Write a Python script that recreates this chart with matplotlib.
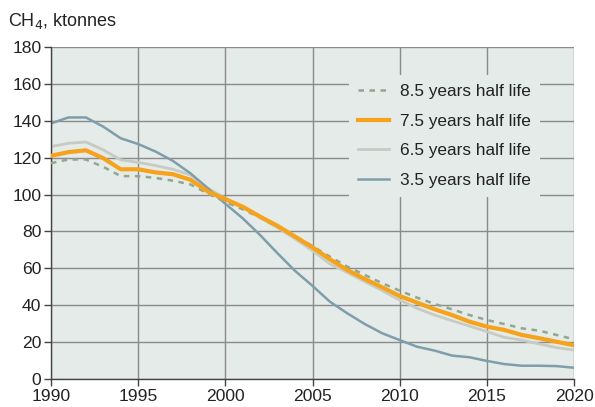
import matplotlib
matplotlib.use("Agg")
import matplotlib.pyplot as plt

years = list(range(1990, 2021))
hl_8_5 = [117, 119, 119, 115, 110, 110, 109, 107.5, 105.5, 100.5, 96,
          92, 87.5, 82.5, 77.5, 72, 66.3, 60.9, 56.4, 51.9, 47.9,
          44.1, 40.7, 37.8, 34.7, 32, 29.8, 27.5, 26.2, 23.9, 21.5]
hl_7_5 = [121, 123, 124, 119.7, 113.7, 113.7, 112, 111, 108, 101.6, 97.5,
          93.4, 88, 83, 77.2, 71.4, 64.9, 59.1, 54.2, 49.7, 45,
          41.4, 37.8, 34.7, 31.1, 28.4, 26.6, 23.9, 22.1, 20.2, 18.3]
hl_6_5 = [126, 127.8, 128.5, 124.2, 118.8, 117.5, 115.7, 113.7, 110.6, 103.4, 98,
          93, 87.5, 82, 76, 69.5, 62.4, 57.7, 52.8, 47.9, 42.8,
          38.3, 34.7, 31.6, 28.7, 25.7, 22.6, 21.1, 19, 17, 15.7]
hl_3_5 = [138.6, 141.8, 141.8, 136.8, 130.5, 127.4, 123.3, 118.2, 111.5, 103.4, 95,
          87.1, 78, 68.1, 58.6, 50.5, 41.9, 35.6, 29.8, 24.8, 21.1,
          17.5, 15.4, 12.7, 11.8, 9.8, 8.1, 7.2, 7.2, 7.0, 6.1]
labels = ["8.5 years half life", "7.5 years half life",
          "6.5 years half life", "3.5 years half life"]
xticks = [1990, 1995, 2000, 2005, 2010, 2015, 2020]
yticks = list(range(0, 181, 20))

plt.rcParams['font.family'] = ['Liberation Sans', 'DejaVu Sans']
bg = '#e5ebe9'

fig = plt.figure(figsize=(5.95, 4.07), dpi=100)
ax = fig.add_axes([51/595, 28/407, 523/595, 332/407])
ax.set_facecolor(bg)

ax.plot(years, hl_8_5, color='#8fa88f', lw=1.8, ls=(0, (2.2, 2.2)), label=labels[0], zorder=3)
ax.plot(years, hl_7_5, color='#f7a21b', lw=3.0, label=labels[1], zorder=4)
ax.plot(years, hl_6_5, color='#c6ccc3', lw=2.0, label=labels[2], zorder=2)
ax.plot(years, hl_3_5, color='#7f9eac', lw=1.8, label=labels[3], zorder=2)

ax.set_xlim(1990, 2020)
ax.set_ylim(0, 180)
ax.set_xticks(xticks)
ax.set_yticks(yticks)
ax.grid(True, color='#8a8a8a', lw=1.0, zorder=0)
ax.set_axisbelow(True)
for s in ['top', 'right']:
    ax.spines[s].set_visible(False)
for s in ['left', 'bottom']:
    ax.spines[s].set_color('#444444')
    ax.spines[s].set_linewidth(1.0)
ax.tick_params(direction='out', length=5, width=1, color='#444444',
               labelsize=12.6, labelcolor='#222222', pad=2)

leg = ax.legend(loc='upper left', bbox_to_anchor=(0.5695, 0.916), borderaxespad=0,
                facecolor=bg, edgecolor='none', framealpha=1, fancybox=False,
                fontsize=12.4, handlelength=1.8, handletextpad=0.6,
                labelspacing=0.84, borderpad=0.55)
leg.set_zorder(5)
for t in leg.get_texts():
    t.set_color('#222222')

fig.text(8/595, 1 - 21/407, 'CH$_4$, ktonnes', fontsize=13, color='#222222', va='center', ha='left')

fig.savefig('out.png', dpi=100)
